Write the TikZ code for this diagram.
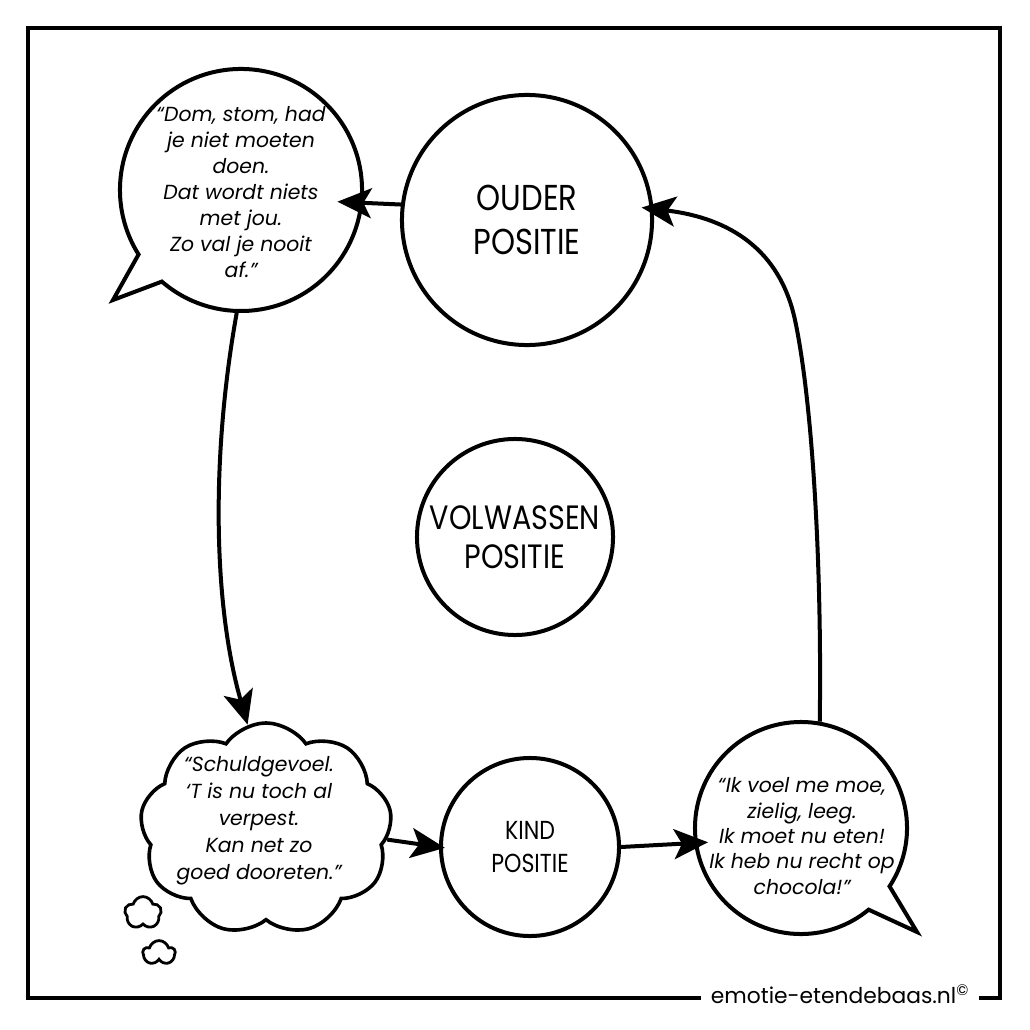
\documentclass[tikz,border=0pt]{standalone}
\usepackage{fontspec}
\setmainfont{Poppins}
\newfontfamily\capsfont[FakeStretch=0.85]{Poppins}
\usetikzlibrary{arrows.meta, shapes.callouts, shapes.symbols}
\tikzset{
	posnode/.style={
			circle,
			draw=black,
			line width=0.1cm,
			fill=white,
			inner sep=0pt,
			align=center,
			minimum size=#1
		},
	speechnode/.style={
			ellipse callout,
			draw=black,
			line width=0.1cm,
			fill=white,
			inner sep=0pt,
			callout pointer arc=17,
			minimum width=#1,
			minimum height=#1
		},
	thoughtnode/.style={
			cloud,
			cloud puffs=9,
			cloud puff arc=110,
			cloud ignores aspect,
			draw=black,
			line width=0.09cm,
			fill=white,
			inner sep=0pt
		},
	puffnode/.style={
			cloud,
			cloud puffs=5,
			cloud ignores aspect,
			draw=black,
			line width=0.07cm,
			inner sep=0pt
		},
	quotenode/.style={
			align=center,
			inner sep=0pt,
			font=\itshape\fontsize{14.5}{18.5}\selectfont
		},
	arrowline/.style={
			line width=0.1cm,
			-{Stealth[length=0.85cm, width=0.75cm, inset=0.2cm]}
		}
}
\begin{document}
\begin{tikzpicture}[x=0.025cm, y=-0.025cm]
\useasboundingbox (0,0) rectangle (1030,1030);
\draw[line width=0.08cm] (28,28) rectangle (1000,998);
\node[fill=white, anchor=base, inner xsep=0.25cm, inner ysep=0.1cm, font=\fontsize{15.5}{18}\selectfont] (site) at (840,1003) {emotie-etendebaas.nl\textsuperscript{©}};

\node[posnode=6.25cm, font=\capsfont\fontsize{25.6}{31.3}\selectfont] (ouder) at (527,220) {OUDER\\POSITIE};
\node[posnode=4.9cm, font=\capsfont\fontsize{24}{27.7}\selectfont] (volwassen) at (515,537) {VOLWASSEN\\POSITIE};
\node[posnode=4.45cm, font=\capsfont\fontsize{18.5}{23.5}\selectfont] (kind) at (530,847) {KIND\\POSITIE};

\node[speechnode=6.05cm, callout absolute pointer={(113,300)}] (dom) at (241,190) {};
\node[quotenode] (domtext) at (241,192) {“Dom, stom, had\\je niet moeten\\doen.\\Dat wordt niets\\met jou.\\Zo val je nooit\\af.”};

\node[speechnode=5.3cm, callout absolute pointer={(917,932)}] (ik) at (801,828) {};
\node[quotenode, font=\itshape\fontsize{14.5}{18}\selectfont] (iktext) at (802,836) {“Ik voel me moe,\\zielig, leeg.\\Ik moet nu eten!\\Ik heb nu recht op\\chocola!”};

\node[thoughtnode, minimum width=6.3cm, minimum height=5.3cm] (cloud) at (266,829) {};
\node[quotenode, font=\itshape\fontsize{14.5}{19.2}\selectfont] (cloudtext) at (259,821) {“Schuldgevoel.\\‘T is nu toch al\\verpest.\\Kan net zo\\goed dooreten.”};
\node[puffnode, minimum width=0.92cm, minimum height=0.82cm] (puffa) at (143,913) {};
\node[puffnode, minimum width=0.8cm, minimum height=0.62cm] (puffb) at (159,953) {};

\draw[arrowline, shorten >=-0.65cm] (ouder.173) -- (dom.-6);
\draw[arrowline] (dom.268) .. controls (212,450) and (212,600) .. (cloud.100);
\draw[arrowline, shorten >=-0.15cm] (cloud.-5) -- (kind.west);
\draw[arrowline, shorten >=-0.35cm] (kind.east) -- (ik.188);
\draw[arrowline, shorten >=-0.3cm] (ik.80) .. controls (822,560) and (812,400) .. (795,320) .. controls (780,250) and (730,218) .. (ouder.5);
\end{tikzpicture}
\end{document}
